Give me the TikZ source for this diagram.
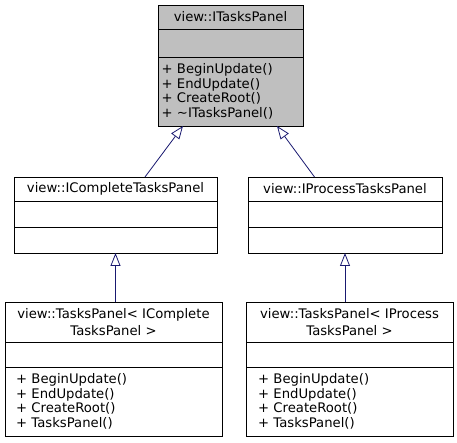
\documentclass[tikz,border=0pt]{standalone}
\usepackage{fontspec}
\setmainfont{DejaVu Sans}
\usetikzlibrary{positioning,arrows.meta}
\definecolor{edgeblue}{RGB}{25,25,112}
\definecolor{headgray}{RGB}{191,191,191}

\begin{document}
\begin{tikzpicture}[x=1pt,y=-1pt,
    every node/.style={font=\fontsize{13.2}{14.6}\selectfont},
    part/.style={draw,line width=0.8pt,inner sep=0pt,outer sep=0pt,anchor=north,align=center},
    meth/.style={inner sep=0pt,align=left,anchor=west},
    inh/.style={draw=edgeblue,line width=0.8pt,-{Triangle[open,length=13pt,width=10pt]}}]
    \useasboundingbox (0,0) rectangle (457,443);

    % base class
    \node[part,fill=headgray,minimum width=145pt,minimum height=24pt] (itp) at (230.5,5) {view::ITasksPanel};
    \node[part,fill=headgray,minimum width=145pt,minimum height=28pt,below=0pt of itp] (itpa) {};
    \node[part,fill=headgray,minimum width=145pt,minimum height=69pt,below=0pt of itpa] (itpm) {};
    \node[meth,right=3.5pt of itpm.west] {+ BeginUpdate()\\+ EndUpdate()\\+ CreateRoot()\\+ \textasciitilde ITasksPanel()};

    % interfaces
    \foreach \n/\cx/\w/\t in {icp/115.5/203/IComplete,ipp/345/194/IProcess}{
        \node[part,minimum width=\w pt,minimum height=24pt] (\n) at (\cx,177) {view::\t TasksPanel};
        \node[part,minimum width=\w pt,minimum height=26pt,below=0pt of \n] (\n a) {};
        \node[part,minimum width=\w pt,minimum height=26pt,below=0pt of \n a] (\n m) {};
    }

    % template instances
    \foreach \n/\cx/\w/\t/\dx in {tpc/113.5/217/IComplete/11,tpp/349.5/207/IProcess/12}{
        \node[part,minimum width=\w pt,minimum height=40pt,font=\fontsize{13.2}{16.5}\selectfont] (\n) at (\cx,302) {view::TasksPanel< \t\\TasksPanel >};
        \node[part,minimum width=\w pt,minimum height=25pt,below=0pt of \n] (\n a) {};
        \node[part,minimum width=\w pt,minimum height=69pt,below=0pt of \n a] (\n m) {};
        \node[meth,right=\dx pt of \n m.west] {+ BeginUpdate()\\+ EndUpdate()\\+ CreateRoot()\\+ TasksPanel()};
    }

    \draw[inh] ([xshift=29.5pt]icp.north) -- ([xshift=-47.5pt]itpm.south);
    \draw[inh] ([xshift=-30.5pt]ipp.north) -- ([xshift=46.5pt]itpm.south);
    \draw[inh] (tpc.north -| icpm.south) -- (icpm.south);
    \draw[inh] (tpp.north -| ippm.south) -- (ippm.south);
\end{tikzpicture}
\end{document}
